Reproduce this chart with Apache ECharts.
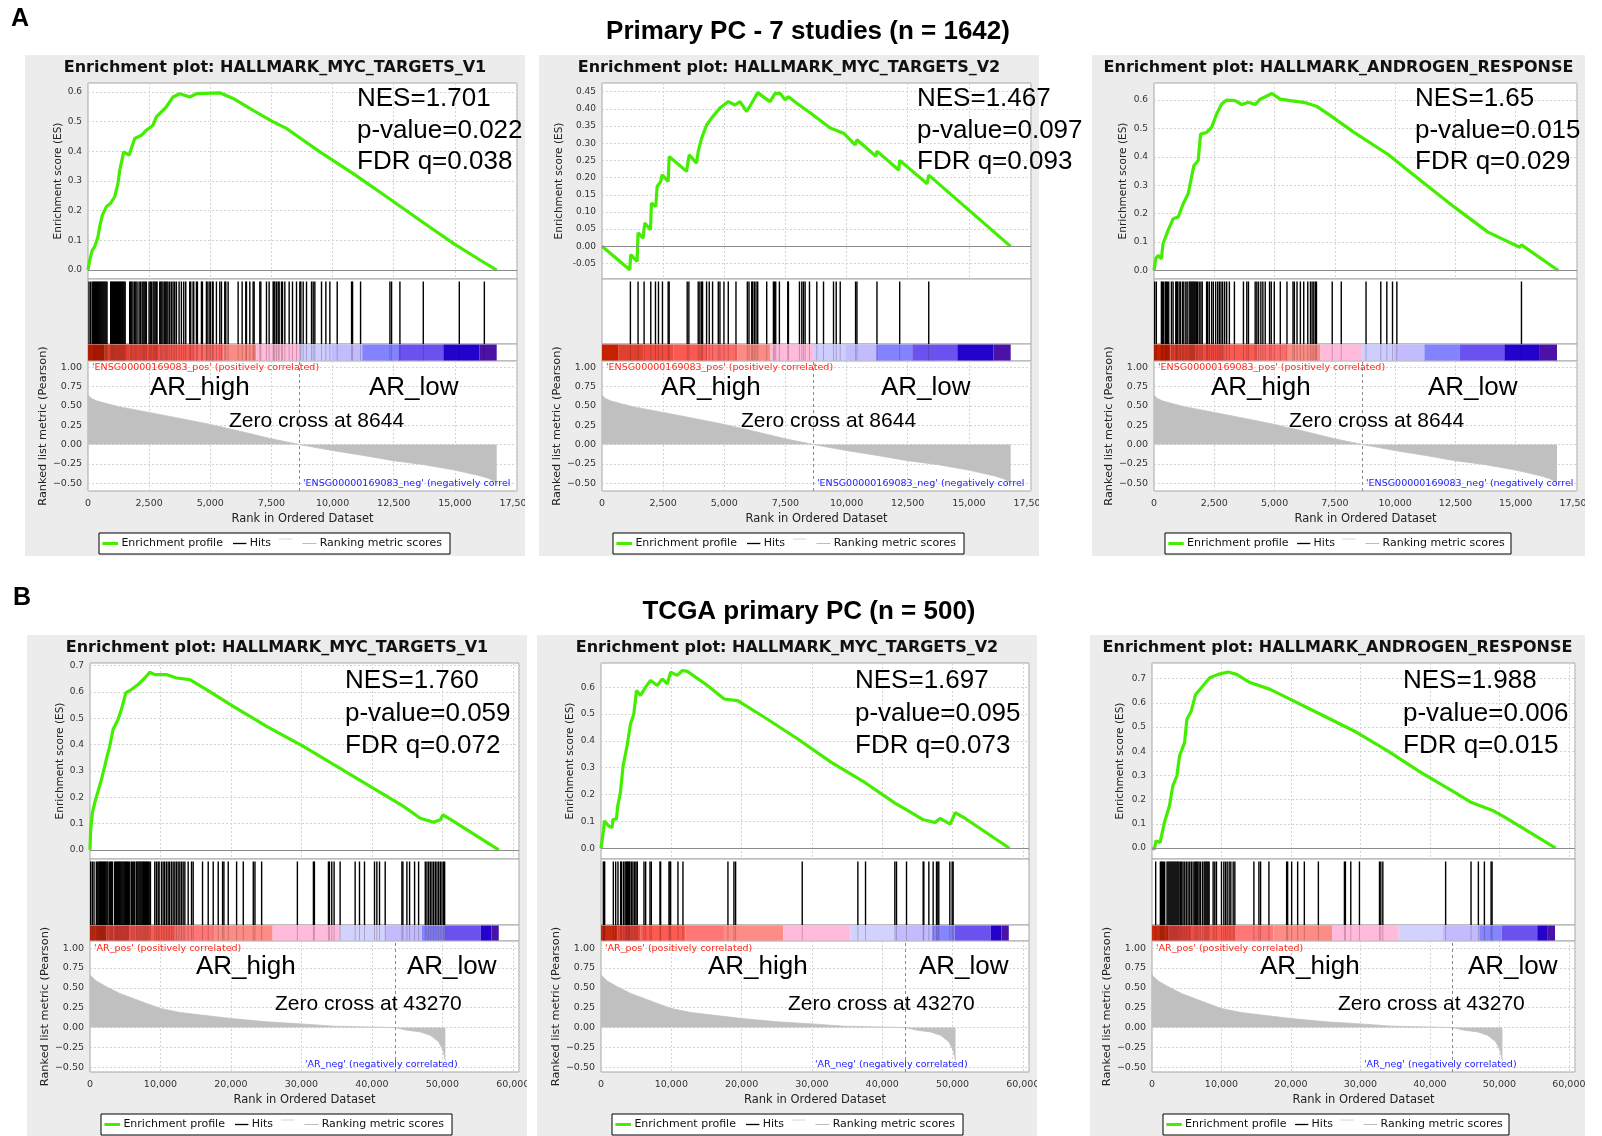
<!DOCTYPE html>
<html><head><meta charset="utf-8">
<script src="https://cdn.jsdelivr.net/npm/echarts@6.0.0/dist/echarts.min.js"></script>
<style>html,body{margin:0;padding:0;background:#fff}#c{width:1602px;height:1136px}</style>
</head><body><div id="c"></div>
<script>
// ================= DATA =================
const sectionLetters = ['A', 'B'];
const sectionTitles = ['Primary PC - 7 studies (n = 1642)', 'TCGA primary PC (n = 500)'];
const geneSets = ['HALLMARK_MYC_TARGETS_V1', 'HALLMARK_MYC_TARGETS_V2', 'HALLMARK_ANDROGEN_RESPONSE'];
const nesA = ['1.701', '1.467', '1.65'];
const pvalA = ['0.022', '0.097', '0.015'];
const fdrA = ['0.038', '0.093', '0.029'];
const nesB = ['1.760', '1.697', '1.988'];
const pvalB = ['0.059', '0.095', '0.006'];
const fdrB = ['0.072', '0.073', '0.015'];
const zeroCrossA = 8644;
const zeroCrossB = 43270;
const groupHigh = 'AR_high';
const groupLow = 'AR_low';
const posLabelA = "'ENSG00000169083_pos' (positively correlated)";
const negLabelA = "'ENSG00000169083_neg' (negatively correlated)";
const posLabelB = "'AR_pos' (positively correlated)";
const negLabelB = "'AR_neg' (negatively correlated)";
const legendLabels = ['Enrichment profile', 'Hits', 'Ranking metric scores'];
const xTickStepA = 2500, xTickStepB = 10000;

// running enrichment score: [rank, ES]
const esA1 = [[0,0],[68,0.034],[177,0.067],[273,0.079],[409,0.112],[477,0.146],[587,0.185],[750,0.213],[914,0.224],[1091,0.247],[1228,0.292],[1296,0.336],[1460,0.398],[1678,0.387],[1910,0.443],[2183,0.454],[2387,0.471],[2660,0.488],[2796,0.516],[3205,0.55],[3478,0.583],[3751,0.594],[4160,0.583],[4433,0.594],[5388,0.597],[5933,0.578],[6752,0.538],[7570,0.499],[8116,0.477],[9480,0.398],[10844,0.325],[12208,0.247],[13572,0.168],[14936,0.09],[16027,0.034],[16709,0]];
const esA2 = [[0,0],[1134,-0.068],[1175,-0.024],[1434,-0.044],[1475,0.039],[1680,0.024],[1748,0.068],[1981,0.048],[2022,0.126],[2199,0.116],[2254,0.174],[2404,0.189],[2459,0.208],[2705,0.189],[2746,0.261],[3456,0.218],[3566,0.266],[3866,0.242],[3934,0.276],[4071,0.314],[4276,0.353],[4480,0.373],[4822,0.402],[5163,0.421],[5437,0.411],[5642,0.421],[5915,0.392],[6120,0.416],[6366,0.447],[6666,0.431],[6871,0.421],[7076,0.445],[7281,0.445],[7486,0.426],[7622,0.435],[7964,0.416],[8483,0.39],[9330,0.344],[9876,0.329],[10354,0.295],[10423,0.31],[11200,0.262],[11242,0.277],[12130,0.222],[12171,0.25],[13291,0.182],[13359,0.207],[16706,0]];
const esA3 = [[0,0],[69,0.041],[167,0.053],[306,0.041],[375,0.094],[583,0.141],[792,0.182],[1000,0.188],[1208,0.234],[1417,0.27],[1514,0.311],[1653,0.369],[1833,0.387],[1931,0.48],[2180,0.486],[2389,0.504],[2597,0.551],[2805,0.586],[3014,0.6],[3361,0.598],[3639,0.584],[3917,0.592],[4195,0.584],[4403,0.603],[4889,0.623],[5236,0.603],[5653,0.598],[6209,0.592],[6764,0.577],[7320,0.545],[8292,0.486],[9681,0.41],[11070,0.316],[12459,0.223],[13848,0.135],[15167,0.082],[15237,0.09],[16764,0]];
const esB1 = [[0,0],[95,0.076],[332,0.139],[664,0.178],[1137,0.222],[1611,0.266],[2085,0.317],[2417,0.355],[2796,0.393],[3270,0.457],[3981,0.495],[4455,0.533],[5071,0.596],[5877,0.609],[6825,0.628],[7772,0.653],[8483,0.675],[9194,0.666],[10852,0.666],[12274,0.653],[14170,0.647],[16539,0.609],[20330,0.545],[25069,0.469],[30282,0.393],[35021,0.317],[39760,0.241],[44499,0.165],[46869,0.12],[48764,0.105],[49712,0.114],[50091,0.133],[51607,0.108],[58006,0]];
const esB2 = [[0,0],[143,-0.004],[381,0.071],[476,0.102],[1095,0.083],[1571,0.077],[1714,0.108],[2190,0.108],[2381,0.158],[2762,0.208],[3143,0.307],[3714,0.382],[4190,0.463],[4667,0.5],[5048,0.588],[5619,0.569],[6333,0.6],[7048,0.625],[8000,0.606],[8714,0.631],[9429,0.612],[9905,0.656],[10857,0.644],[11571,0.662],[12286,0.659],[15143,0.606],[17524,0.556],[19429,0.55],[23238,0.488],[28000,0.407],[32762,0.32],[37524,0.245],[41810,0.168],[43714,0.139],[45857,0.106],[47524,0.096],[48238,0.111],[49667,0.09],[50381,0.133],[51810,0.111],[58100,0]];
const esB3 = [[0,0],[338,-0.004],[580,0.03],[1159,0.023],[1787,0.106],[2512,0.175],[2995,0.257],[3575,0.298],[3961,0.381],[4686,0.436],[5024,0.532],[5652,0.567],[6280,0.635],[7101,0.663],[8309,0.704],[9517,0.718],[10966,0.728],[12174,0.718],[14106,0.684],[17005,0.656],[19420,0.622],[24251,0.553],[29082,0.484],[33913,0.402],[38744,0.312],[43575,0.23],[45991,0.188],[49131,0.154],[50821,0.127],[58100,0]];

// gene-set hit ranks
const hitsA1 = [41,110,175,230,260,300,340,380,420,460,500,540,580,620,660,700,740,777,928,965,1000,1040,1080,1120,1160,1200,1240,1280,1320,1360,1400,1440,1480,1520,1705,1745,1790,1841,1910,1955,2005,2087,2141,2210,2250,2295,2340,2387,2496,2545,2592,2660,2700,2745,2790,2823,2933,2975,3020,3069,3137,3180,3225,3270,3342,3410,3478,3546,3614,3724,3819,3915,3997,4160,4201,4297,4324,4433,4474,4638,4679,4842,4870,4951,5006,5088,5115,5251,5388,5456,5592,5633,5729,6138,6302,6452,6479,6616,6752,6793,7025,7066,7297,7406,7570,7598,7638,7707,7775,7816,7911,7952,8048,8225,8361,8525,8661,8702,8798,8934,9139,9207,9275,9548,9725,9889,10189,10776,10817,11144,12344,12412,12753,13708,15181,16205];
const hitsA2 = [1161,1475,1721,1994,2186,2309,2472,2705,2746,3483,3552,3934,4002,4071,4112,4276,4385,4521,4754,4822,4986,5163,5478,5942,6010,6120,6161,6229,6297,6366,6734,7008,7049,7103,7253,7595,7622,8073,8169,8237,8305,8483,8783,9057,9466,9576,9740,10368,10423,11242,12171,13359];
const hitsA3 = [28,97,306,347,403,472,514,556,611,722,792,903,931,972,1042,1097,1181,1236,1320,1375,1458,1500,1542,1583,1625,1667,1708,1764,1806,1875,1945,2000,2181,2222,2292,2389,2459,2556,2639,2709,2778,2848,2931,3014,3125,3334,3709,3848,3917,4195,4264,4334,4431,4514,4612,4792,4862,4987,5237,5514,5764,5820,5931,6070,6209,6376,6487,6556,6626,6695,6737,7390,7765,8792,9404,9654,9890,10070,15237];
const hitsB1 = [95,330,570,900,1100,1250,1380,1510,1640,1770,1900,2030,2160,2290,2420,2559,2796,2930,3070,3200,3507,3640,3770,3900,4030,4160,4290,4420,4550,4680,4810,4940,5070,5200,5330,5460,5640,5876,6000,6208,6350,6587,6682,6824,6966,7100,7230,7360,7490,7620,7750,7880,8010,8140,8270,8400,8578,9194,9431,9668,9810,10142,10378,10600,10852,11089,11300,11563,11800,12037,12274,12511,12748,12985,13222,13459,13933,14406,14643,15970,16776,17487,18198,18814,19003,19619,20804,21752,23173,23410,24358,29429,31704,31846,33836,33979,34310,34642,35495,37628,38244,38955,40376,40708,41087,41893,44262,44404,44973,45352,46063,46632,47580,47816,48053,48290,48527,48764,49001,49238,49475,49712,49949,50186,50328];
const hitsB2 = [332,427,521,1753,2085,2417,2796,2891,3175,3412,3554,3649,3791,3933,4028,4123,4360,4549,4786,4976,5166,6113,6350,6966,7156,8388,8483,9668,9810,9905,10947,11658,18056,18909,19146,28624,36538,37628,41798,42035,43457,45826,45921,46632,47248,47722,47911,48053,49617,49949,50091];
const hitsB3 = [529,1202,1346,1490,1635,1827,2164,2308,2452,2596,2741,2885,3029,3173,3317,3462,3606,3750,3894,4087,4279,4471,4712,4952,5193,5433,5673,5914,6154,6298,6443,6587,6779,6971,7260,7500,7644,7789,7933,8077,8222,8798,9039,9279,10000,10337,10578,10818,11106,11347,11683,11923,14664,15386,15626,16828,19376,19521,20098,20963,21925,23944,27694,27838,28608,29858,32743,32935,33223,42262,45916,46974,47839,48801,48945];

// ranked list metric: [rank, Pearson]
const rankMetricA = [[0,0.64],[136,0.596],[341,0.565],[750,0.53],[1296,0.487],[2500,0.415],[4024,0.322],[5000,0.26],[6250,0.17],[7500,0.074],[8644,0],[10000,-0.078],[11250,-0.14],[12500,-0.209],[13750,-0.26],[15000,-0.33],[16030,-0.404],[16400,-0.44],[16710,-0.49]];
const rankMetricB = [[0,0.662],[900,0.586],[2320,0.515],[4220,0.43],[6110,0.367],[8010,0.304],[10000,0.24],[12750,0.19],[15120,0.165],[20000,0.114],[25070,0.072],[30000,0.046],[34550,0.017],[43270,0],[44990,-0.034],[46870,-0.055],[48290,-0.097],[49480,-0.18],[50100,-0.29],[50430,-0.42]];

// heat-map band of the ranked list
const bandEdgesA = [0,682,1705,2933,4297,5524,6888,8634,9945,11212,12685,14527,16000,16710];
const bandColorsA = ['#c52000','#e2402e','#f24b40','#fb5a52','#fd6b68','#fc8b84','#ffbadc','#cdcdff','#c2bcff','#8383ff','#6b52f0','#2402cc','#4a12a6'];
const bandEdgesB = [0,2322,5640,12037,17487,25922,35495,41798,47106,50328,55446,56963,58006];
const bandColorsB = ['#c82a10','#e8453a','#fd5a50','#fe7676','#fc8c85','#ffbadc','#d2d2ff','#c2bcff','#8585ff','#6b52f0','#2402cc','#4a12a6'];

// ================= LAYOUT =================
const ROWS = [
  {top:83, esB:279, hitB:344, cbB:361, rkB:491, titleY:68, legY:533, statY:[99,131,162], arY:387.5, zeroY:421.5, posY:368, negY:484, xMax:17540, xStep:xTickStepA},
  {top:663, esB:859, hitB:925, cbB:941, rkB:1072, titleY:648, legY:1114, statY:[681,714,746], arY:966.5, zeroY:1004.5, posY:949, negY:1065, xMax:60880, xStep:xTickStepB}
];
const LAY = [
  {row:0, bg:[25,55,525,556], L:88, R:517, esGap:23.5, rkGap:38, stX:357, highX:150, lowX:369, zeroX:229, negX:303, legW:351},
  {row:0, bg:[539,55,1039,556], L:602, R:1031, esGap:37.5, rkGap:37.6, stX:917, highX:661, lowX:881, zeroX:741, negX:817, legW:351},
  {row:0, bg:[1092,55,1585,556], L:1154, R:1577, esGap:25, rkGap:37.3, stX:1415, highX:1211, lowX:1428, zeroX:1289, negX:1366, legW:346},
  {row:1, bg:[27,635,527,1136], L:90, R:519, esGap:24, rkGap:37, stX:345, highX:196, lowX:407, zeroX:275, negX:305, legW:351},
  {row:1, bg:[537,635,1037,1136], L:601, R:1029, esGap:25, rkGap:37.7, stX:855, highX:708, lowX:919, zeroX:788, negX:815, legW:351},
  {row:1, bg:[1090,635,1585,1136], L:1152, R:1575, esGap:26, rkGap:37, stX:1403, highX:1260, lowX:1468, zeroX:1338, negX:1364, legW:346}
];

const PANELS = [
  {es:esA1, hits:hitsA1, rank:rankMetricA, edges:bandEdgesA, colors:bandColorsA, zero:zeroCrossA, set:geneSets[0], stats:[nesA[0],pvalA[0],fdrA[0]], pos:posLabelA, neg:negLabelA, yEs:[-0.03,0.63,0.01,0.1,1], yRk:[-0.6,1.08,0.01,0.25,2]},
  {es:esA2, hits:hitsA2, rank:rankMetricA, edges:bandEdgesA, colors:bandColorsA, zero:zeroCrossA, set:geneSets[1], stats:[nesA[1],pvalA[1],fdrA[1]], pos:posLabelA, neg:negLabelA, yEs:[-0.095,0.475,0.005,0.05,2], yRk:[-0.6,1.08,0.01,0.25,2]},
  {es:esA3, hits:hitsA3, rank:rankMetricA, edges:bandEdgesA, colors:bandColorsA, zero:zeroCrossA, set:geneSets[2], stats:[nesA[2],pvalA[2],fdrA[2]], pos:posLabelA, neg:negLabelA, yEs:[-0.03,0.66,0.01,0.1,1], yRk:[-0.6,1.08,0.01,0.25,2]},
  {es:esB1, hits:hitsB1, rank:rankMetricB, edges:bandEdgesB, colors:bandColorsB, zero:zeroCrossB, set:geneSets[0], stats:[nesB[0],pvalB[0],fdrB[0]], pos:posLabelB, neg:negLabelB, yEs:[-0.035,0.71,0.005,0.1,1], yRk:[-0.56,1.09,0.01,0.25,2]},
  {es:esB2, hits:hitsB2, rank:rankMetricB, edges:bandEdgesB, colors:bandColorsB, zero:zeroCrossB, set:geneSets[1], stats:[nesB[1],pvalB[1],fdrB[1]], pos:posLabelB, neg:negLabelB, yEs:[-0.04,0.69,0.01,0.1,1], yRk:[-0.56,1.09,0.01,0.25,2]},
  {es:esB3, hits:hitsB3, rank:rankMetricB, edges:bandEdgesB, colors:bandColorsB, zero:zeroCrossB, set:geneSets[2], stats:[nesB[2],pvalB[2],fdrB[2]], pos:posLabelB, neg:negLabelB, yEs:[-0.045,0.765,0.005,0.1,1], yRk:[-0.56,1.09,0.01,0.25,2]}
];

const SMALL = 'DejaVu Sans';
const ARIAL = 'Liberation Sans';
const GREEN = '#44ee00';
const GRIDC = '#d4d4d4';
const BORDER = '#a6a6a6';

function thousands(v){ return String(Math.round(v)).replace(/\B(?=(\d{3})+(?!\d))/g, ','); }

function fineY(gi, cfg, minus, fs, extra){
  const [min,max,step,major,dec] = cfg;
  const len = Math.round(major/step);
  const first = Math.ceil(min/major - 1e-9)*major;
  const off = ((Math.round((first-min)/step)) % len + len) % len;
  const cols = [];
  for (let i=0;i<len;i++) cols.push(i===off ? GRIDC : 'rgba(0,0,0,0)');
  return Object.assign({
    type:'value', gridIndex:gi, min:min, max:max, interval:step,
    axisLine:{show:false}, axisTick:{show:false},
    axisLabel:{fontSize:fs, fontFamily:SMALL, color:'#333', margin:6,
      formatter:function(v){ const q=v/major; if (Math.abs(q-Math.round(q))>1e-6) return ''; let s=(Math.round(q)*major).toFixed(dec); if (s[0]==='-') s=minus+s.slice(1); return s; }},
    splitLine:{show:true, lineStyle:{color:cols, type:[2,2], width:1}}
  }, extra||{});
}
function xAx(gi, row, labels, split, extra){
  return Object.assign({
    type:'value', gridIndex:gi, min:0, max:row.xMax, interval:row.xStep,
    axisLine:{show:false}, axisTick:{show:false},
    axisLabel:{show:labels, fontSize:9.5, fontFamily:SMALL, color:'#333', margin:7.5,
      formatter:function(v){ const q=v/row.xStep; return Math.abs(q-Math.round(q))<1e-6 ? thousands(v) : ''; }},
    splitLine:{show:split, lineStyle:{color:GRIDC, type:[2,2], width:1}}
  }, extra||{});
}

const grids=[], xAxes=[], yAxes=[], series=[], gfx=[];

gfx.push({type:'text', x:11, y:19, z:100, style:{text:sectionLetters[0], fontSize:25, fontWeight:'bold', fontFamily:ARIAL, fill:'#000', align:'left', verticalAlign:'middle'}});
gfx.push({type:'text', x:13, y:598, z:100, style:{text:sectionLetters[1], fontSize:25, fontWeight:'bold', fontFamily:ARIAL, fill:'#000', align:'left', verticalAlign:'middle'}});
gfx.push({type:'text', x:808, y:31.5, z:100, style:{text:sectionTitles[0], fontSize:26, fontWeight:'bold', fontFamily:ARIAL, fill:'#000', align:'center', verticalAlign:'middle'}});
gfx.push({type:'text', x:809, y:611.5, z:100, style:{text:sectionTitles[1], fontSize:26, fontWeight:'bold', fontFamily:ARIAL, fill:'#000', align:'center', verticalAlign:'middle'}});

PANELS.forEach(function(P, p){
  const Lp = LAY[p], R = ROWS[Lp.row];
  const w = Lp.R - Lp.L;
  const gb = p*4;
  const gridBase = {show:true, backgroundColor:'#fff', borderColor:BORDER, borderWidth:1, left:Lp.L, width:w};
  grids.push(Object.assign({}, gridBase, {top:R.top, height:R.esB-R.top}));
  grids.push(Object.assign({}, gridBase, {top:R.esB, height:R.hitB-R.esB}));
  grids.push(Object.assign({}, gridBase, {top:R.hitB, height:R.cbB-R.hitB}));
  grids.push(Object.assign({}, gridBase, {top:R.cbB, height:R.rkB-R.cbB}));

  xAxes.push(xAx(gb, R, false, true));
  xAxes.push(xAx(gb+1, R, false, false));
  xAxes.push(xAx(gb+2, R, false, false));
  xAxes.push(xAx(gb+3, R, true, true, {name:'Rank in Ordered Dataset', nameLocation:'middle', nameGap:22, nameTextStyle:{fontSize:11.5, fontFamily:SMALL, color:'#222'}}));
  yAxes.push(fineY(gb, P.yEs, '-', 9, {name:'Enrichment score (ES)', nameLocation:'middle', nameGap:Lp.esGap, nameTextStyle:{fontSize:10.5, fontFamily:SMALL, color:'#222'}}));
  yAxes.push({type:'value', gridIndex:gb+1, min:0, max:1, show:false, splitLine:{show:false}});
  yAxes.push({type:'value', gridIndex:gb+2, min:0, max:1, show:false, splitLine:{show:false}});
  yAxes.push(fineY(gb+3, P.yRk, '\u2212', 9.5, {name:'Ranked list metric (Pearson)', nameLocation:'middle', nameGap:Lp.rkGap, nameTextStyle:{fontSize:11.3, fontFamily:SMALL, color:'#222'}}));

  series.push({type:'line', xAxisIndex:gb, yAxisIndex:gb, data:P.es, showSymbol:false, symbol:'none', z:3,
    lineStyle:{color:GREEN, width:3.2}, silent:true,
    markLine:{silent:true, symbol:['none','none'], label:{show:false}, lineStyle:{color:'#8c8c8c', type:'solid', width:1}, data:[{yAxis:0}]}});
  series.push({type:'custom', xAxisIndex:gb+1, yAxisIndex:gb+1, data:P.hits.map(function(h){return [h,1];}), silent:true, clip:true,
    renderItem:function(params, api){ const cs=params.coordSys; const x=api.coord([api.value(0),0])[0];
      return {type:'rect', shape:{x:x-0.7, y:cs.y+2.5, width:1.4, height:cs.height-2.5}, style:{fill:'#000'}}; }});
  const cols = P.colors;
  series.push({type:'custom', xAxisIndex:gb+2, yAxisIndex:gb+2, data:cols.map(function(c,i){return [P.edges[i], P.edges[i+1], i];}), silent:true, clip:true,
    renderItem:function(params, api){ const cs=params.coordSys; const x0=api.coord([api.value(0),0])[0]; const x1=api.coord([api.value(1),0])[0];
      return {type:'rect', shape:{x:x0, y:cs.y+0.5, width:x1-x0, height:cs.height-1}, style:{fill:cols[api.value(2)]}}; }});
  series.push({type:'custom', xAxisIndex:gb+2, yAxisIndex:gb+2, data:P.hits.map(function(h){return [h,1];}), silent:true, clip:true,
    renderItem:function(params, api){ const cs=params.coordSys; const x=api.coord([api.value(0),0])[0];
      return {type:'rect', shape:{x:x-0.5, y:cs.y+0.5, width:1, height:cs.height-1}, style:{fill:'rgba(40,0,0,0.22)'}}; }});
  series.push({type:'line', xAxisIndex:gb+3, yAxisIndex:gb+3, data:P.rank, showSymbol:false, symbol:'none', silent:true,
    lineStyle:{color:'#c0c0c0', width:0.8}, areaStyle:{color:'#c0c0c0', opacity:1},
    markLine:{silent:true, symbol:['none','none'], label:{show:false}, lineStyle:{color:'#8a8a8a', type:[3,3], width:1}, data:[{xAxis:P.zero}]}});

  const bx=Lp.bg;
  gfx.push({type:'rect', z:-10, shape:{x:bx[0], y:bx[1], width:bx[2]-bx[0], height:bx[3]-bx[1]}, style:{fill:'#ececec'}});
  gfx.push({type:'text', x:(bx[0]+bx[2])/2, y:R.titleY, z:100, style:{text:'Enrichment plot: '+P.set, fontSize:16, fontWeight:'bold', fontFamily:SMALL, fill:'#111', align:'center', verticalAlign:'middle'}});
  const statTxt = ['NES='+P.stats[0], 'p-value='+P.stats[1], 'FDR q='+P.stats[2]];
  statTxt.forEach(function(t,i){
    gfx.push({type:'text', x:Lp.stX, y:R.statY[i], z:100, style:{text:t, fontSize:26, fontFamily:ARIAL, fill:'#000', align:'left', verticalAlign:'middle'}});
  });
  gfx.push({type:'text', x:Lp.highX, y:R.arY, z:100, style:{text:groupHigh, fontSize:26, fontFamily:ARIAL, fill:'#000', align:'left', verticalAlign:'middle'}});
  gfx.push({type:'text', x:Lp.lowX, y:R.arY, z:100, style:{text:groupLow, fontSize:26, fontFamily:ARIAL, fill:'#000', align:'left', verticalAlign:'middle'}});
  gfx.push({type:'text', x:Lp.zeroX, y:R.zeroY, z:100, style:{text:'Zero cross at '+P.zero, fontSize:21, fontFamily:ARIAL, fill:'#000', align:'left', verticalAlign:'middle'}});
  gfx.push({type:'text', x:Lp.L+4, y:R.posY, z:100, style:{text:P.pos, fontSize:9.5, fontFamily:SMALL, fill:'#ff2a1a', align:'left', verticalAlign:'middle'}});
  gfx.push({type:'text', x:Lp.negX, y:R.negY, z:100, style:{text:P.neg, fontSize:9.5, fontFamily:SMALL, fill:'#1a1aff', align:'left', verticalAlign:'middle', width:Lp.R-Lp.negX, overflow:'truncate', ellipsis:''}});

  const lx = Lp.L+11, ly = R.legY, lw = Lp.legW, k = lw/351, cy = ly+10.5;
  gfx.push({type:'rect', z:100, shape:{x:lx, y:ly, width:lw, height:21}, style:{fill:'#fff', stroke:'#000', lineWidth:1}});
  gfx.push({type:'line', z:101, shape:{x1:lx+3.4*k, y1:cy, x2:lx+19*k, y2:cy}, style:{stroke:GREEN, lineWidth:3}});
  gfx.push({type:'text', x:lx+22.4*k, y:cy, z:101, style:{text:legendLabels[0], fontSize:11, fontFamily:SMALL, fill:'#111', align:'left', verticalAlign:'middle'}});
  gfx.push({type:'line', z:101, shape:{x1:lx+134*k, y1:cy, x2:lx+147.4*k, y2:cy}, style:{stroke:'#000', lineWidth:1.3}});
  gfx.push({type:'text', x:lx+150.7*k, y:cy, z:101, style:{text:legendLabels[1], fontSize:11, fontFamily:SMALL, fill:'#111', align:'left', verticalAlign:'middle'}});
  gfx.push({type:'line', z:101, shape:{x1:lx+180*k, y1:cy-4.5, x2:lx+193.4*k, y2:cy-4.5}, style:{stroke:'#d6d6d6', lineWidth:1}});
  gfx.push({type:'line', z:101, shape:{x1:lx+203.4*k, y1:cy, x2:lx+217.4*k, y2:cy}, style:{stroke:'#bdbdbd', lineWidth:1}});
  gfx.push({type:'text', x:lx+220.7*k, y:cy, z:101, style:{text:legendLabels[2], fontSize:11, fontFamily:SMALL, fill:'#111', align:'left', verticalAlign:'middle'}});
});

[[525,489,14,30],[1039,489,53,30],[1585,489,17,30],[527,1070,10,30],[1037,1070,53,30],[1585,1070,17,30]].forEach(function(r){
  gfx.push({type:'rect', z:90, shape:{x:r[0], y:r[1], width:r[2], height:r[3]}, style:{fill:'#fff'}});
});

const chart = echarts.init(document.getElementById('c'), null, {renderer:'canvas', width:1602, height:1136});
chart.setOption({
  backgroundColor:'#fff',
  animation:false,
  textStyle:{fontFamily:SMALL},
  grid:grids, xAxis:xAxes, yAxis:yAxes, series:series,
  graphic:{elements:gfx}
});
</script>
</body></html>
